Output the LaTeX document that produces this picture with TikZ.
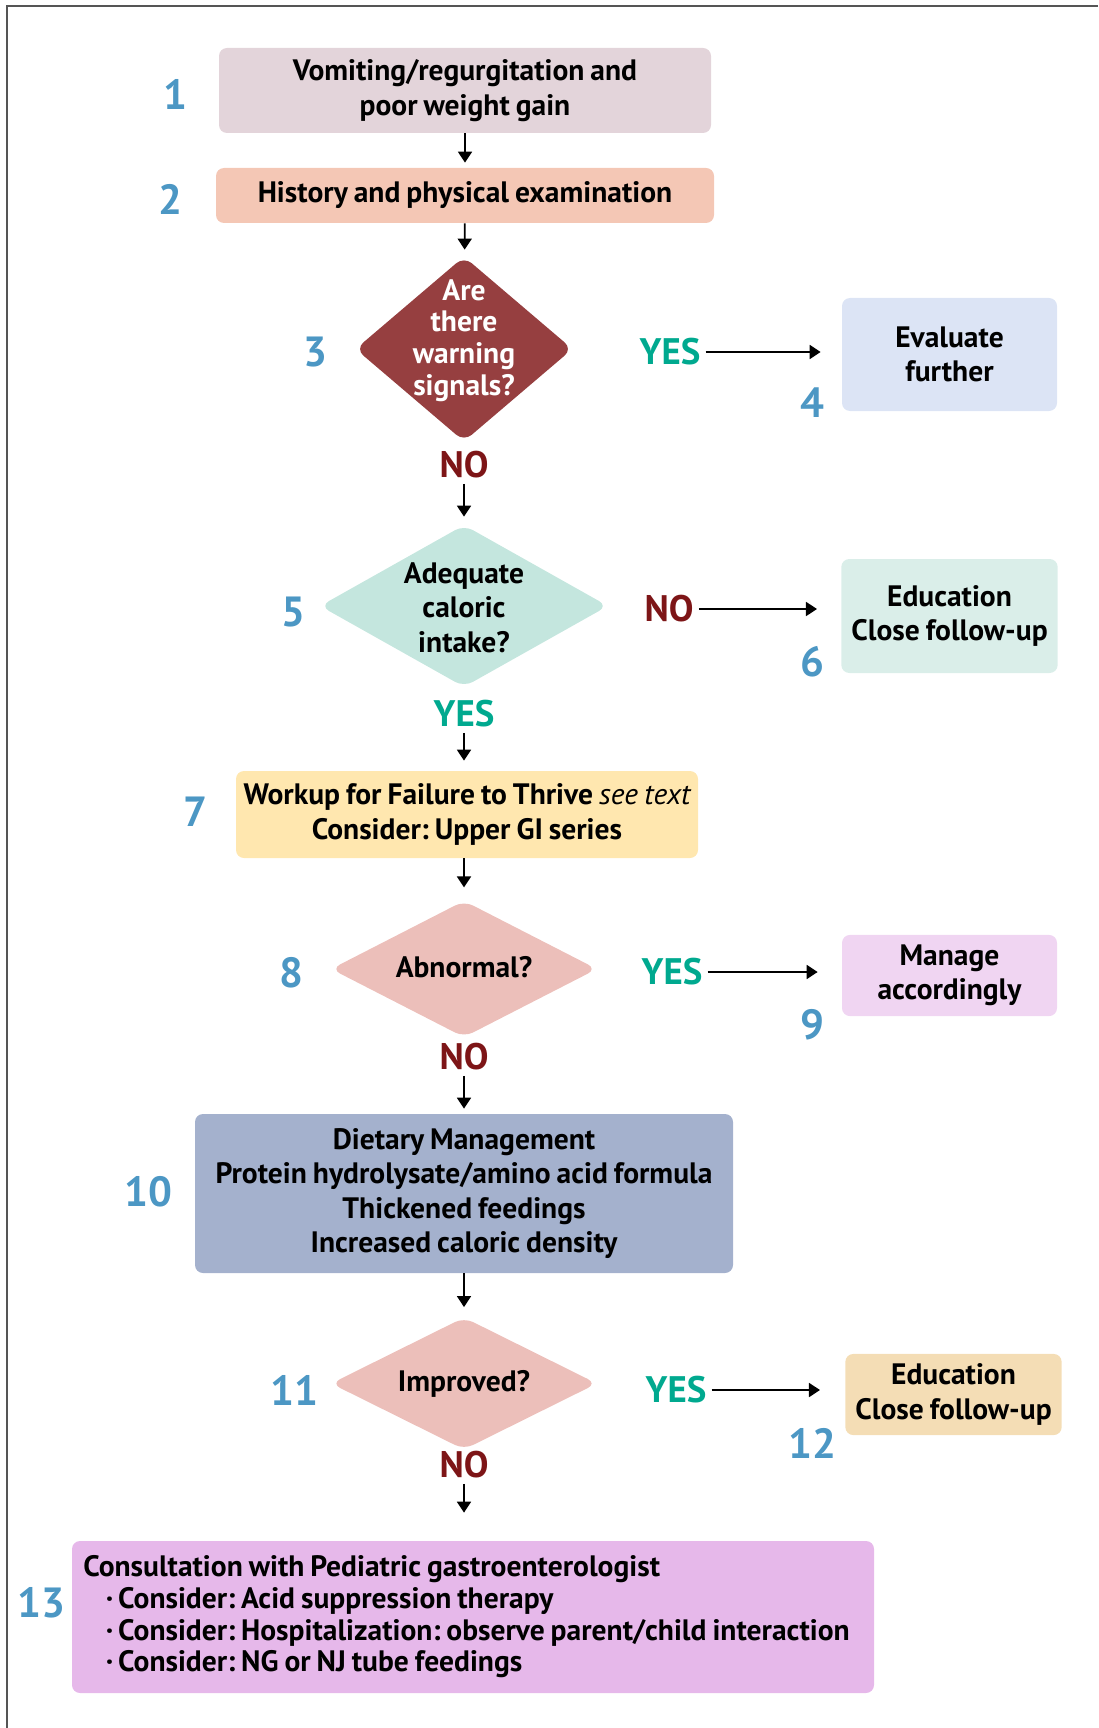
\documentclass[tikz,border=0pt]{standalone}
\usepackage{fontspec}
\setmainfont{PT Sans}[WordSpace=0.8]
\usetikzlibrary{positioning, arrows.meta, shapes.geometric}
\definecolor{vomitpink}{HTML}{E3D4DA}
\definecolor{historysalmon}{HTML}{F4C7B5}
\definecolor{warnred}{HTML}{963F40}
\definecolor{evalblue}{HTML}{DCE4F5}
\definecolor{intaketeal}{HTML}{C4E6DE}
\definecolor{eduteal}{HTML}{DAEEE9}
\definecolor{workupyellow}{HTML}{FFE7AF}
\definecolor{askrose}{HTML}{ECBFBA}
\definecolor{managepink}{HTML}{F0D5F2}
\definecolor{dietblue}{HTML}{A4B1CD}
\definecolor{edusand}{HTML}{F4DDB5}
\definecolor{consultviolet}{HTML}{E6B8EA}
\definecolor{numblue}{HTML}{4C97C4}
\definecolor{yesgreen}{HTML}{00A98F}
\definecolor{nored}{HTML}{7D1517}
\definecolor{framegray}{HTML}{555555}
\newcommand{\dialines}[2][0pt]{\smash{\raisebox{#1}{\begin{tabular}{@{}c@{}}#2\end{tabular}}}}
\frenchspacing

\begin{document}
\begin{tikzpicture}[
        box/.style={rounded corners=0.16cm, inner sep=0.2cm, align=center, font=\bfseries\fontsize{16.8}{19.5}\selectfont},
        dia/.style={diamond, rounded corners=0.2cm, inner sep=0pt, align=center, font=\bfseries\fontsize{16.8}{19.5}\selectfont},
        tight/.style={font=\bfseries\fontsize{16.8}{18}\selectfont},
        num/.style={text=numblue, inner sep=1pt, font=\bfseries\fontsize{24}{28}\selectfont},
        yes/.style={text=yesgreen, inner sep=0.1cm, font=\bfseries\fontsize{21}{24}\selectfont},
        no/.style={text=nored, inner sep=0.1cm, font=\bfseries\fontsize{21}{24}\selectfont},
        arr/.style={-{Triangle[length=2.2mm, width=2.8mm]}, line width=1pt}
    ]
      \useasboundingbox (0,0) rectangle (21.96,-34.56);
      \draw[framegray, line width=0.9pt] (21.96,-0.12) -- (0.14,-0.12) -- (0.14,-34.56);

      % Presentation
      \node[box, fill=vomitpink, minimum width=9.84cm, minimum height=1.7cm] (vomit) at (9.3,-1.81) {Vomiting/regurgitation and\\poor weight gain};
      \node[num] (n1) at (3.5,-1.88) {1};
      \node[box, fill=historysalmon, minimum width=9.96cm, minimum height=1.1cm] (history) at (9.3,-3.91) {History and physical examination};
      \node[num] (n2) at (3.4,-3.98) {2};

      % Warning signals
      \node[dia, tight, fill=warnred, text=white, minimum width=4.34cm, minimum height=3.7cm] (warn) at (9.28,-6.98) {\dialines{Are\\there\\warning\\signals?}};
      \node[num] (n3) at (6.3,-7.04) {3};
      \node[yes] (warnyes) at (13.4,-7.04) {YES};
      \node[box, fill=evalblue, minimum width=4.3cm, minimum height=2.26cm] (evaluate) at (18.99,-7.09) {Evaluate\\further};
      \node[num] (n4) at (16.24,-8.06) {4};
      \node[no] (warnno) at (9.28,-9.3) {NO};

      % Caloric intake
      \node[dia, fill=intaketeal, minimum width=5.76cm, minimum height=3.24cm] (intake) at (9.28,-12.12) {\dialines[-0.25cm]{Adequate\\caloric\\intake?}};
      \node[num] (n5) at (5.86,-12.24) {5};
      \node[no] (intakeno) at (13.38,-12.18) {NO};
      \node[box, fill=eduteal, minimum width=4.3cm, minimum height=2.28cm] (educate) at (18.99,-12.32) {Education\\Close follow-up};
      \node[num] (n6) at (16.24,-13.24) {6};
      \node[yes] (intakeyes) at (9.28,-14.28) {YES};

      % Workup
      \node[box, fill=workupyellow, inner xsep=0.1cm, minimum width=9.24cm, minimum height=1.74cm] (workup) at (9.34,-16.29) {Workup for Failure to Thrive {\mdseries\itshape see text}\\Consider: Upper GI series};
      \node[num] (n7) at (3.9,-16.24) {7};

      % Abnormal
      \node[dia, fill=askrose, minimum width=5.32cm, minimum height=2.52cm] (abnormal) at (9.28,-19.38) {\dialines[-0.18cm]{Abnormal?}};
      \node[num] (n8) at (5.82,-19.46) {8};
      \node[yes] (abnormalyes) at (13.44,-19.44) {YES};
      \node[box, fill=managepink, minimum width=4.3cm, minimum height=1.5cm] (manage) at (18.99,-19.51) {Manage\\accordingly};
      \node[num] (n9) at (16.24,-20.5) {9};
      \node[no] (abnormalno) at (9.28,-21.14) {NO};

      % Dietary management
      \node[box, fill=dietblue, minimum width=10.76cm, minimum height=3.18cm] (diet) at (9.28,-23.87) {Dietary Management\\Protein hydrolysate/amino acid formula\\Thickened feedings\\Increased caloric density};
      \node[num] (n10) at (2.96,-23.84) {10};

      % Improved
      \node[dia, fill=askrose, minimum width=5.32cm, minimum height=2.54cm] (improved) at (9.28,-27.67) {\dialines[-0.18cm]{Improved?}};
      \node[num] (n11) at (5.88,-27.8) {11};
      \node[yes] (improvedyes) at (13.52,-27.8) {YES};
      \node[box, fill=edusand, minimum width=4.3cm, minimum height=1.54cm] (followup) at (19.07,-27.89) {Education\\Close follow-up};
      \node[num] (n12) at (16.24,-28.86) {12};
      \node[no] (improvedno) at (9.28,-29.3) {NO};

      % Consultation
      \node[box, tight, fill=consultviolet, inner xsep=0.1cm, align=left, minimum width=16.04cm, minimum height=3.04cm] (consult) at (9.46,-32.34) {Consultation with Pediatric gastroenterologist\\
        \hspace*{0.45cm}·\,Consider: Acid suppression therapy\\
        \hspace*{0.45cm}·\,Consider: Hospitalization: observe parent/child interaction\rule{0.26cm}{0pt}\\
        \hspace*{0.45cm}·\,Consider: NG or NJ tube feedings};
      \node[num] (n13) at (0.82,-32.06) {13};

      % Connectors
      \draw[arr, shorten >=0.1cm] (vomit) -- (history);
      \draw[arr, shorten >=0.14cm] (history) -- (warn);
      \draw[arr, shorten >=0.42cm] (warnyes) -- (warnyes -| evaluate.west);
      \draw[arr, shorten >=0.16cm] (warnno) -- (intake);
      \draw[arr, shorten >=0.48cm] (intakeno) -- (intakeno -| educate.west);
      \draw[arr, shorten >=0.2cm] (intakeyes) -- (intakeyes |- workup.north);
      \draw[arr, shorten >=0.26cm] (abnormal |- workup.south) -- (abnormal);
      \draw[arr, shorten >=0.48cm] (abnormalyes) -- (abnormalyes -| manage.west);
      \draw[arr, shorten >=0.1cm] (abnormalno) -- (diet);
      \draw[arr, shorten >=0.2cm] (diet) -- (improved);
      \draw[arr, shorten >=0.5cm] (improvedyes) -- (improvedyes -| followup.west);
      \draw[arr, shorten >=0.56cm] (improvedno) -- (improvedno |- consult.north);
    \end{tikzpicture}
\end{document}
